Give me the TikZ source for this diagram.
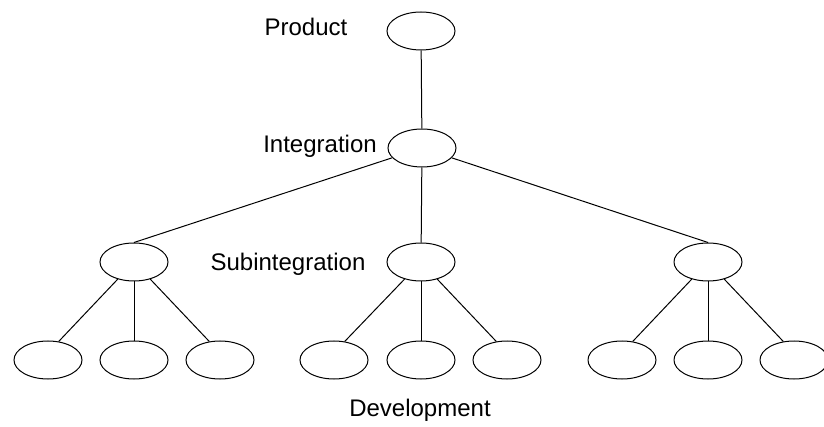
\documentclass[tikz,border=0pt]{standalone}
\usepackage{fontspec}
\setmainfont{Liberation Sans}
\usetikzlibrary{shapes.geometric}
\begin{document}
\begin{tikzpicture}[x=1pt,y=-1pt,
  oval/.style={draw,ellipse,line width=1pt,minimum width=68pt,minimum height=38pt,inner sep=0pt},
  lbl/.style={font=\fontsize{24}{28}\selectfont,inner sep=0pt},
  link/.style={line width=1pt}]
\useasboundingbox (0,0) rectangle (824,427);
\node[oval] (p) at (421,31) {};
\node[oval] (i) at (422,148) {};
\node[oval] (s1) at (134,262) {};
\node[oval] (s2) at (421,262) {};
\node[oval] (s3) at (708,262) {};
\foreach \n/\x in {a1/48,a2/134,a3/220,b1/334,b2/421,b3/507,c1/622,c2/708,c3/794}
  \node[oval] (\n) at (\x,360) {};
\node[lbl] (tp) at (306,27) {Product};
\node[lbl] (ti) at (320,146) {Integration};
\node[lbl] (ts) at (288,264) {Subintegration};
\node[lbl] (td) at (420,410) {Development};
\draw[link] (p) -- (i);
\draw[link] (i) -- (s1.north);
\draw[link] (i) -- (s2);
\draw[link] (i) -- (s3.north);
\foreach \s/\l/\m/\r in {s1/a1/a2/a3,s2/b1/b2/b3,s3/c1/c2/c3}{
  \draw[link] (\s) -- (\l.60);
  \draw[link] (\s) -- (\m);
  \draw[link] (\s) -- (\r.120);
}
\end{tikzpicture}
\end{document}
